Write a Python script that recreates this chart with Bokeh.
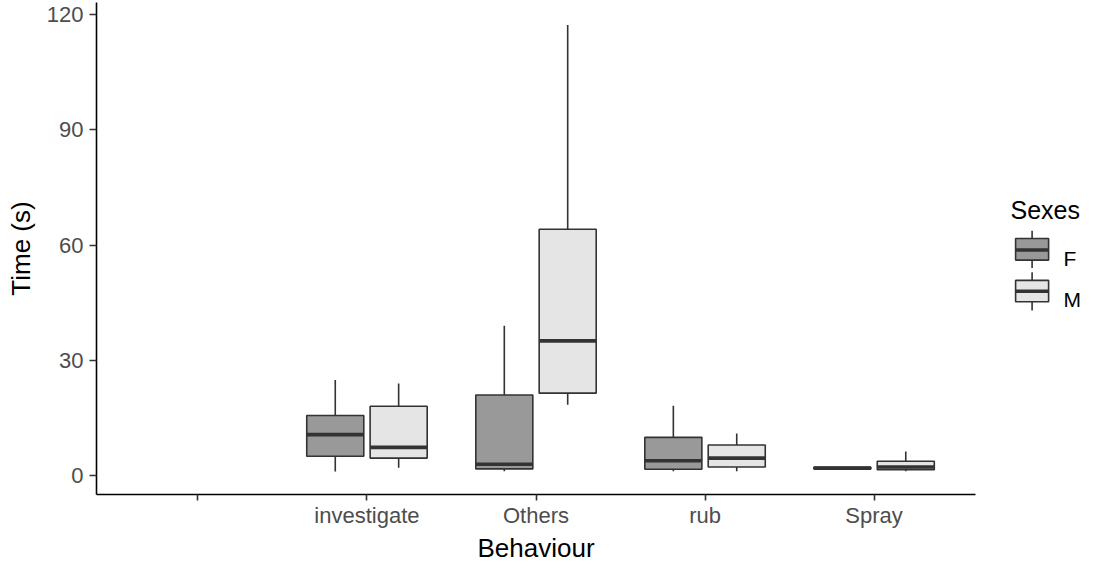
from bokeh.plotting import figure
from bokeh.models import Range1d, FixedTicker, ColumnDataSource, Label, Title
from bokeh.embed import file_html
from bokeh.resources import INLINE

# ---------------- data ----------------
categories = ["", "investigate", "Others", "rub", "Spray"]
box_categories = ["investigate", "Others", "rub", "Spray"]
sexes = ["F", "M"]

F_lower = [1.1, 1.2, 1.2, 1.7]
F_q1 = [5.1, 1.8, 1.7, 1.8]
F_median = [10.7, 3.0, 3.9, 2.0]
F_q3 = [15.7, 21.0, 10.0, 2.2]
F_upper = [24.9, 39.0, 18.2, 2.3]

M_lower = [2.1, 18.5, 1.2, 1.2]
M_q1 = [4.6, 21.5, 2.3, 1.6]
M_median = [7.4, 35.1, 4.6, 2.3]
M_q3 = [18.1, 64.1, 8.0, 3.8]
M_upper = [24.0, 117.2, 11.0, 6.3]

y_ticks = [0, 30, 60, 90, 120]

# ---------------- style ----------------
FONT = "Liberation Sans"
fills = {"F": "#999999", "M": "#E5E5E5"}
OUTLINE = "#333333"
dodge = {"F": -0.1875, "M": 0.1875}
BOX_W = 0.3375

W, H = 1083, 562
LEFT = 96
X_START, X_END_PANEL = 0.4, 5.6
# frame spans the panel plus the legend area to its right
X_END = X_START + (X_END_PANEL - X_START) * (W - LEFT) / (975 - LEFT)

p = figure(width=W, height=H,
           x_range=Range1d(X_START, X_END), y_range=Range1d(-4.86, 123.08),
           min_border_left=LEFT, min_border_right=0, min_border_top=2, min_border_bottom=0,
           output_backend="svg", toolbar_location=None)
p.grid.visible = False
p.outline_line_color = None
p.background_fill_color = "white"
p.border_fill_color = "white"

data = {
    "F": (F_lower, F_q1, F_median, F_q3, F_upper),
    "M": (M_lower, M_q1, M_median, M_q3, M_upper),
}
for s in sexes:
    lo, q1, med, q3, hi = data[s]
    xs = [categories.index(c) + 1 + dodge[s] for c in box_categories]
    src = ColumnDataSource(dict(
        x=xs, lo=lo, q1=q1, med=med, q3=q3, hi=hi,
        xl=[x - BOX_W / 2 for x in xs], xr=[x + BOX_W / 2 for x in xs]))
    p.segment(x0="x", y0="q3", x1="x", y1="hi", source=src, line_color=OUTLINE, line_width=1.6)
    p.segment(x0="x", y0="lo", x1="x", y1="q1", source=src, line_color=OUTLINE, line_width=1.6)
    p.vbar(x="x", width=BOX_W, top="q3", bottom="q1", source=src,
           fill_color=fills[s], line_color=OUTLINE, line_width=1.6)
    p.segment(x0="xl", y0="med", x1="xr", y1="med", source=src,
              line_color=OUTLINE, line_width=3.6)

# axes
p.xaxis.ticker = FixedTicker(ticks=list(range(1, len(categories) + 1)), minor_ticks=[])
p.xaxis.major_label_overrides = {i + 1: c for i, c in enumerate(categories)}
p.xaxis.bounds = (X_START, X_END_PANEL)
p.yaxis.ticker = FixedTicker(ticks=y_ticks, minor_ticks=[])
p.yaxis.axis_label = "Time (s)"
for ax in (p.xaxis[0], p.yaxis[0]):
    ax.axis_line_color = "black"
    ax.axis_line_width = 1.6
    ax.major_tick_line_color = OUTLINE
    ax.major_tick_line_width = 1.6
    ax.major_tick_in = 0
    ax.major_tick_out = 7
    ax.minor_tick_line_color = None
    ax.major_label_text_font = FONT
    ax.major_label_text_font_size = "22px"
    ax.major_label_text_color = "#4D4D4D"
    ax.axis_label_text_font = FONT
    ax.axis_label_text_font_size = "26px"
    ax.axis_label_text_font_style = "normal"
    ax.axis_label_text_color = "black"
p.xaxis.major_tick_out = 6
p.xaxis.major_label_standoff = 2
p.yaxis.major_label_standoff = 6
p.yaxis.axis_label_standoff = 8

# x-axis title, centred under the panel (not the whole frame)
title_font_px = 26
est_width = 4.502 * title_font_px
centre_px = (3.0 - X_START) / (X_END - X_START) * (W - LEFT)
p.add_layout(Title(text="Behaviour", align="left", offset=centre_px - est_width / 2,
                   text_font=FONT, text_font_size=f"{title_font_px}px",
                   text_font_style="normal", text_color="black", standoff=0,
                   text_line_height=1.0), "below")

# ---------------- legend (reference-pixel coordinates) ----------------
p.extra_x_ranges["leg"] = Range1d(LEFT, W)
p.extra_y_ranges["leg"] = Range1d(508, 7)

p.add_layout(Label(x=1010, y=218, x_range_name="leg", y_range_name="leg", text="Sexes",
                   text_font=FONT, text_font_size="25px", text_color="black",
                   text_baseline="alphabetic", text_align="left"))
key_x = 1031.6
key_half = 16.5
key_rows = {"F": (239.3, 277.3, 247.3, 269.3, 259.0, 268.0),
            "M": (281.7, 320.7, 290.0, 311.7, 301.0, 309.0)}
for s in sexes:
    wt, wb, bt, bb, md, base = key_rows[s]
    p.segment(x0=[key_x], y0=[wt], x1=[key_x], y1=[wb], line_color=OUTLINE, line_width=1.6,
              x_range_name="leg", y_range_name="leg")
    p.quad(left=[key_x - key_half], right=[key_x + key_half], top=[bt], bottom=[bb],
           fill_color=fills[s], line_color=OUTLINE, line_width=1.6,
           x_range_name="leg", y_range_name="leg")
    p.segment(x0=[key_x - key_half], y0=[md], x1=[key_x + key_half], y1=[md],
              line_color=OUTLINE, line_width=3.6, x_range_name="leg", y_range_name="leg")
    p.add_layout(Label(x=1063, y=base, x_range_name="leg", y_range_name="leg", text=s,
                       text_font=FONT, text_font_size="21px", text_color="black",
                       text_baseline="alphabetic", text_align="left"))

open("out.html", "w").write(file_html(p, INLINE))
